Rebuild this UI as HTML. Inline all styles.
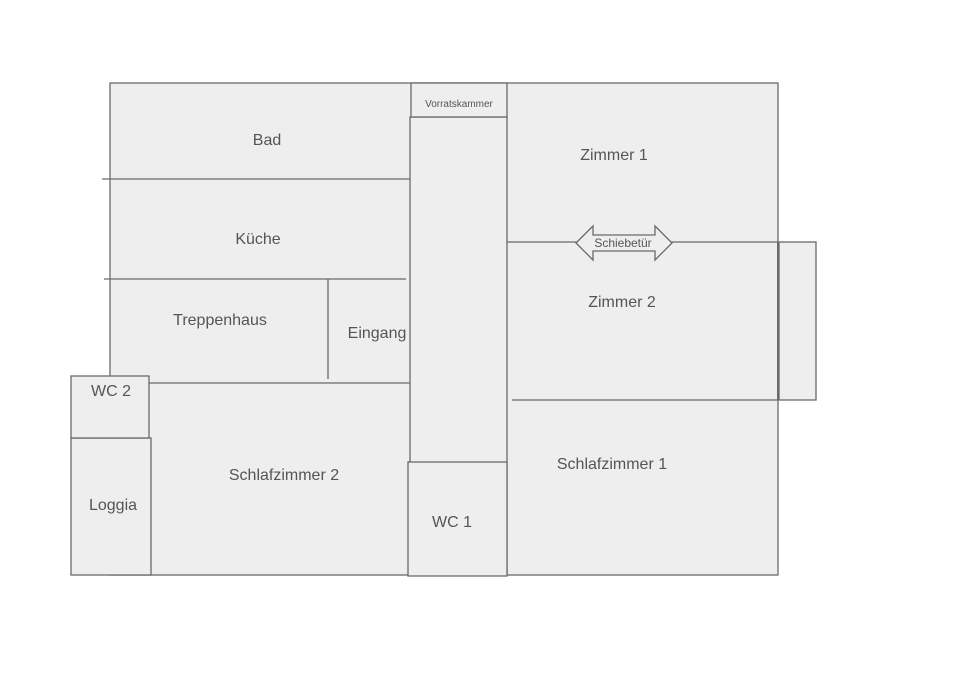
<!DOCTYPE html>
<html><head><meta charset="utf-8"><style>
html,body{margin:0;padding:0;background:#fff;}
svg{display:block;}
text{font-family:"Liberation Sans",sans-serif;fill:#555;}
</style></head><body>
<svg width="960" height="679" viewBox="0 0 960 679" xmlns="http://www.w3.org/2000/svg">
<g stroke="#6a6a6a" stroke-width="1.3" fill="#eeeeee">
<rect x="110" y="83" width="668" height="492"/>
<rect x="779" y="242" width="37" height="158"/>
<rect x="71" y="438" width="80" height="137"/>
<rect x="71" y="376" width="78" height="62"/>
<rect x="410" y="117" width="97" height="458"/>
<rect x="411" y="83" width="96" height="34"/>
<rect x="408" y="462" width="99" height="114"/>
<line x1="102" y1="179" x2="410" y2="179"/>
<line x1="104" y1="279" x2="406" y2="279"/>
<line x1="328" y1="279" x2="328" y2="379"/>
<line x1="149" y1="383" x2="410" y2="383"/>
<line x1="507" y1="242" x2="778" y2="242"/>
<line x1="512" y1="400" x2="778" y2="400"/>
<line x1="778" y1="242" x2="778" y2="400" stroke-width="2"/>
<polygon points="576,243 593,226 593,235 655,235 655,226 672,243 655,260 655,251 593,251 593,260"/>
</g>
<g font-size="16" text-anchor="middle">
<text x="267" y="145">Bad</text>
<text x="258" y="244">Küche</text>
<text x="220" y="325">Treppenhaus</text>
<text x="377" y="338">Eingang</text>
<text x="111" y="396">WC 2</text>
<text x="113" y="510">Loggia</text>
<text x="284" y="480">Schlafzimmer 2</text>
<text x="452" y="527">WC 1</text>
<text x="614" y="160">Zimmer 1</text>
<text x="622" y="307">Zimmer 2</text>
<text x="612" y="469">Schlafzimmer 1</text>
</g>
<text x="459" y="107" font-size="10" text-anchor="middle">Vorratskammer</text>
<text x="623" y="247" font-size="12" text-anchor="middle">Schiebetür</text>
</svg>
</body></html>
